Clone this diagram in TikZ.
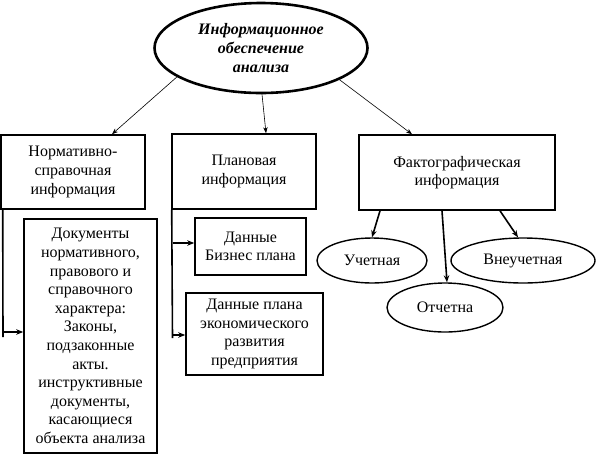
\documentclass[tikz,border=0pt]{standalone}
\usepackage{fontspec}
\setmainfont{Liberation Serif}
\usetikzlibrary{shapes.geometric,arrows.meta}
\begin{document}
\begin{tikzpicture}[x=1pt,y=-1pt,
  txt/.style={font=\fontsize{16}{18.6}\selectfont, align=center, inner sep=0pt},
  box/.style={txt, draw, line width=1.6pt, rectangle},
  oval/.style={txt, draw, line width=1.4pt, ellipse, inner sep=0pt},
  thin/.style={line width=0.6pt, -{Stealth[length=6pt,width=4.5pt]}},
  thick/.style={line width=1.6pt, -{Stealth[length=7pt,width=5.5pt]}},
  plain/.style={line width=1.6pt}
]
\useasboundingbox (0,0) rectangle (596,456);
% title ellipse
\node[txt, draw, ellipse, line width=2.6pt, minimum width=213pt, minimum height=90pt,
  font=\fontsize{16}{19}\selectfont\bfseries\itshape] (top) at (261,48)
  {Информационное\\обеспечение\\анализа};
% level boxes
\node[box, minimum width=144pt, minimum height=74pt] (norm) at (73,172) {Нормативно-\\справочная\\информация};
\node[box, minimum width=144pt, minimum height=75pt] (plan) at (244,171.5) {Плановая\\информация};
\node[box, minimum width=196pt, minimum height=75pt] (fact) at (457,172.5) {Фактографическая\\информация};
% sub boxes
\node[box, minimum width=133pt, minimum height=234pt] (docs) at (90.5,336)
  {Документы\\нормативного,\\правового и\\справочного\\характера:\\Законы,\\подзаконные\\акты.\\инструктивные\\документы,\\касающиеся\\объекта анализа};
\node[box, minimum width=111pt, minimum height=57pt] (biz) at (250.5,246.5) {Данные\\Бизнес плана};
\node[box, minimum width=137pt, minimum height=82pt] (econ) at (254.5,334) {Данные плана\\экономического\\развития\\предприятия};
% ellipses
\node[oval, minimum width=110pt, minimum height=45pt] (uch) at (372,260.5) {Учетная};
\node[oval, minimum width=144pt, minimum height=45pt] (vne) at (523,260.5) {Внеучетная};
\node[oval, minimum width=116pt, minimum height=49pt] (otch) at (445,307.5) {Отчетна};
% connectors from title
\draw[thin] (top.-161) -- (norm.north -| 112,0);
\draw[thin] (top.south) ++(1,0) -- ([xshift=22pt]plan.north);
\draw[thin] (top.-22) -- (norm.north -| 412,0);
% normative branch
\coordinate (nb) at (3,337);
\draw[plain] (norm.south west) ++(2.5,0) -- (nb);
\draw[thick] (3,332) -- (docs.west |- 0,332);
% plan branch
\coordinate (pb) at (172.5,338);
\draw[plain] (plan.south west) ++(0.5,0) -- (pb);
\draw[thick] (172.5,243) -- (biz.west |- 0,243);
\draw[thick] (172.5,335) -- (econ.west |- 0,335);
% fact branch
\draw[thick] (fact.south -| 380,0) -- (uch.north -| 372,0);
\draw[thick] (fact.south -| 442,0) -- (otch.north -| 447,0);
\draw[thick] (fact.south -| 500,0) -- (vne.north -| 518,0);
\end{tikzpicture}
\end{document}
